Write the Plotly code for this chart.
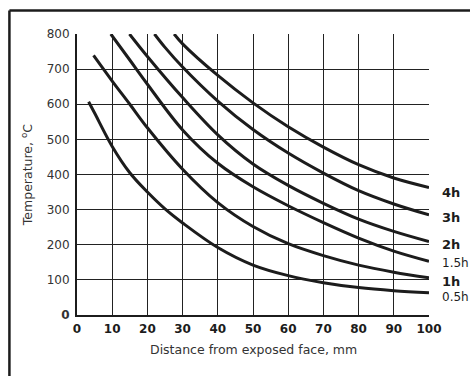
import plotly.graph_objects as go

# Data
x_05h = [3.3, 5, 10, 15, 20, 25, 30, 40, 50, 60, 70, 80, 90, 100]
y_05h = [607, 575, 480, 405, 350, 302, 262, 192, 142, 112, 92, 78, 69, 63]

x_1h = [4.7, 10, 15, 20, 30, 40, 50, 60, 70, 80, 90, 100]
y_1h = [739, 666, 600, 533, 415, 320, 252, 203, 169, 142, 122, 106]

x_15h = [9.6, 15, 20, 30, 40, 50, 60, 70, 80, 90, 100]
y_15h = [800, 726, 657, 527, 432, 365, 311, 263, 219, 182, 153]

x_2h = [14.9, 20, 30, 40, 50, 60, 70, 80, 90, 100]
y_2h = [800, 736, 619, 513, 430, 369, 318, 273, 238, 209]

x_3h = [22, 25, 30, 40, 50, 60, 70, 80, 90, 100]
y_3h = [800, 762, 706, 609, 528, 461, 404, 354, 316, 285]

x_4h = [27.6, 30, 40, 50, 60, 70, 80, 90, 100]
y_4h = [800, 772, 682, 604, 536, 478, 428, 390, 363]

series = [
    ("0.5h", x_05h, y_05h),
    ("1h", x_1h, y_1h),
    ("1.5h", x_15h, y_15h),
    ("2h", x_2h, y_2h),
    ("3h", x_3h, y_3h),
    ("4h", x_4h, y_4h),
]

# curve labels (text, y position in data units, bold?)
label_text = ["4h", "3h", "2h", "1.5h", "1h", "0.5h"]
label_y = [350, 279, 200, 148, 94, 52]
label_bold = [True, True, True, False, True, False]

x_ticks = [0, 10, 20, 30, 40, 50, 60, 70, 80, 90, 100]
y_ticks = [0, 100, 200, 300, 400, 500, 600, 700, 800]
Y_MAX = 800

FONT = "DejaVu Sans"
INK = "#1c1c1c"

fig = go.Figure()
for name, xs, ys in series:
    fig.add_trace(go.Scatter(
        x=xs, y=ys, mode="lines", name=name,
        line=dict(color=INK, width=3, shape="spline", smoothing=1.0),
        showlegend=False, hoverinfo="skip",
    ))

annotations = []
for t, yv, b in zip(label_text, label_y, label_bold):
    annotations.append(dict(
        x=1.03, y=yv / Y_MAX, xref="paper", yref="paper",
        text=f"<b>{t}</b>" if b else t,
        showarrow=False, xanchor="left", yanchor="middle",
        font=dict(family=FONT, size=13 if b else 12, color=INK),
    ))

annotations.append(dict(
    x=0.5, y=-0.09, xref="paper", yref="paper",
    text="Distance from exposed face, mm", showarrow=False,
    xanchor="center", yanchor="top",
    font=dict(family=FONT, size=12.5, color="#333"),
))
annotations.append(dict(
    x=-0.143, y=0.5, xref="paper", yref="paper",
    text="Temperature, <sup>o</sup>C", showarrow=False, textangle=-90,
    xanchor="center", yanchor="middle",
    font=dict(family=FONT, size=12.5, color="#333"),
))

fig.update_layout(
    width=470, height=376,
    margin=dict(l=77, r=41, t=34, b=61),
    paper_bgcolor="white", plot_bgcolor="white",
    annotations=annotations,
    shapes=[
        # outer frame: left and top edges (right/bottom run off the image)
        dict(type="line", xref="paper", yref="paper",
             x0=-0.192, x1=-0.192, y0=-0.4, y1=1.084,
             line=dict(color=INK, width=2.5), layer="above"),
        dict(type="line", xref="paper", yref="paper",
             x0=-0.192, x1=1.2, y0=1.084, y1=1.084,
             line=dict(color=INK, width=2.5), layer="above"),
    ],
)
fig.update_xaxes(
    range=[0, 100], tickvals=x_ticks,
    ticktext=[f"<b>{v}</b>" for v in x_ticks],
    showgrid=True, gridcolor="#222", gridwidth=1,
    showline=True, linecolor=INK, linewidth=2,
    zeroline=False, ticks="", ticklabelstandoff=2,
    tickfont=dict(family=FONT, size=12, color=INK),
)
fig.update_yaxes(
    range=[0, Y_MAX], tickvals=y_ticks,
    ticktext=["<b>0</b>"] + [str(v) for v in y_ticks[1:]],
    showgrid=True, gridcolor="#222", gridwidth=1,
    showline=True, linecolor=INK, linewidth=2,
    zeroline=False, ticks="", ticklabelstandoff=3,
    tickfont=dict(family=FONT, size=12, color="#333"),
)

fig.write_html(
    "out.html",
    config={"displayModeBar": False},
    post_script="document.body.style.margin='0';document.body.style.padding='0';",
)
